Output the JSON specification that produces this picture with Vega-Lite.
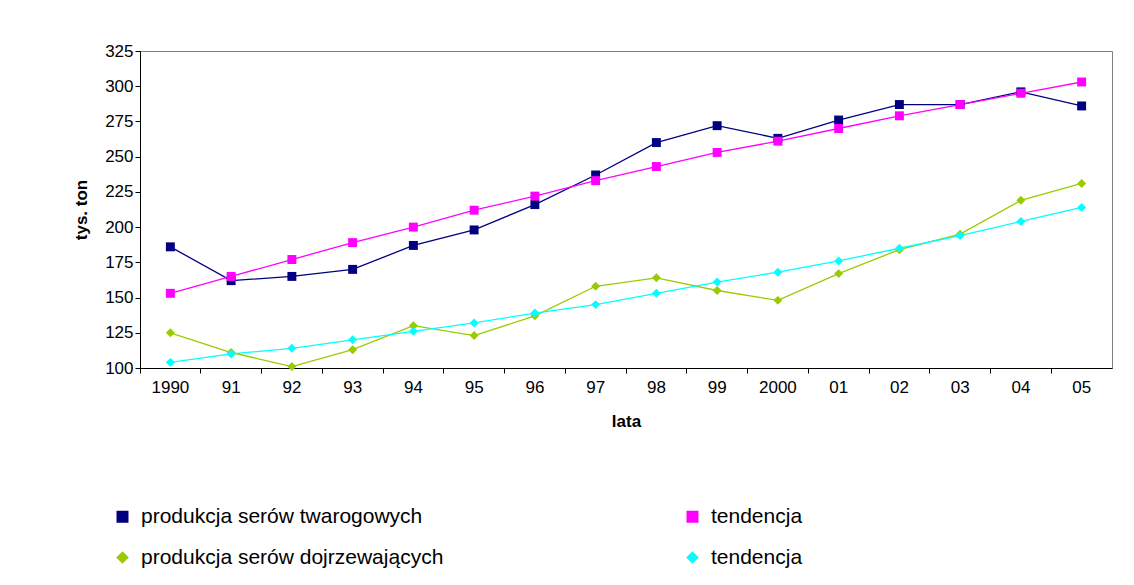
{
  "$schema": "https://vega.github.io/schema/vega-lite/v6.json",
  "autosize": "none",
  "width": 972,
  "height": 317,
  "padding": {"left": 140, "top": 51, "right": 22, "bottom": 217},
  "background": "white",
  "config": {
    "font": "Liberation Sans",
    "view": {"stroke": "#808080", "strokeWidth": 1},
    "axis": {"labelFontSize": 17, "labelColor": "black", "titleFontSize": 17, "titleColor": "black", "domainColor": "black", "tickColor": "black", "grid": false}
  },
  "data": {"values": [
    {"rok": "1990", "s": "A", "v": 186}, {"rok": "91", "s": "A", "v": 162}, {"rok": "92", "s": "A", "v": 165}, {"rok": "93", "s": "A", "v": 170},
    {"rok": "94", "s": "A", "v": 187}, {"rok": "95", "s": "A", "v": 198}, {"rok": "96", "s": "A", "v": 216}, {"rok": "97", "s": "A", "v": 237},
    {"rok": "98", "s": "A", "v": 260}, {"rok": "99", "s": "A", "v": 272}, {"rok": "2000", "s": "A", "v": 263}, {"rok": "01", "s": "A", "v": 276},
    {"rok": "02", "s": "A", "v": 287}, {"rok": "03", "s": "A", "v": 287}, {"rok": "04", "s": "A", "v": 296}, {"rok": "05", "s": "A", "v": 286},
    {"rok": "1990", "s": "B", "v": 153}, {"rok": "91", "s": "B", "v": 165}, {"rok": "92", "s": "B", "v": 177}, {"rok": "93", "s": "B", "v": 189},
    {"rok": "94", "s": "B", "v": 200}, {"rok": "95", "s": "B", "v": 212}, {"rok": "96", "s": "B", "v": 222}, {"rok": "97", "s": "B", "v": 233},
    {"rok": "98", "s": "B", "v": 243}, {"rok": "99", "s": "B", "v": 253}, {"rok": "2000", "s": "B", "v": 261}, {"rok": "01", "s": "B", "v": 270},
    {"rok": "02", "s": "B", "v": 279}, {"rok": "03", "s": "B", "v": 287}, {"rok": "04", "s": "B", "v": 295}, {"rok": "05", "s": "B", "v": 303},
    {"rok": "1990", "s": "C", "v": 125}, {"rok": "91", "s": "C", "v": 111}, {"rok": "92", "s": "C", "v": 101}, {"rok": "93", "s": "C", "v": 113},
    {"rok": "94", "s": "C", "v": 130}, {"rok": "95", "s": "C", "v": 123}, {"rok": "96", "s": "C", "v": 137}, {"rok": "97", "s": "C", "v": 158},
    {"rok": "98", "s": "C", "v": 164}, {"rok": "99", "s": "C", "v": 155}, {"rok": "2000", "s": "C", "v": 148}, {"rok": "01", "s": "C", "v": 167},
    {"rok": "02", "s": "C", "v": 184}, {"rok": "03", "s": "C", "v": 195}, {"rok": "04", "s": "C", "v": 219}, {"rok": "05", "s": "C", "v": 231},
    {"rok": "1990", "s": "D", "v": 104}, {"rok": "91", "s": "D", "v": 110}, {"rok": "92", "s": "D", "v": 114}, {"rok": "93", "s": "D", "v": 120},
    {"rok": "94", "s": "D", "v": 126}, {"rok": "95", "s": "D", "v": 132}, {"rok": "96", "s": "D", "v": 139}, {"rok": "97", "s": "D", "v": 145},
    {"rok": "98", "s": "D", "v": 153}, {"rok": "99", "s": "D", "v": 161}, {"rok": "2000", "s": "D", "v": 168}, {"rok": "01", "s": "D", "v": 176},
    {"rok": "02", "s": "D", "v": 185}, {"rok": "03", "s": "D", "v": 194}, {"rok": "04", "s": "D", "v": 204}, {"rok": "05", "s": "D", "v": 214}
  ]},
  "mark": {"type": "line", "strokeWidth": 1.3, "point": {"filled": true, "size": 80, "opacity": 1}},
  "encoding": {
    "x": {"field": "rok", "type": "ordinal", "sort": null, "scale": {"type": "band", "paddingInner": 0, "paddingOuter": 0},
      "axis": {"title": "lata", "titleFontWeight": "bold", "labelAngle": 0, "labelPadding": 6, "titlePadding": 18, "bandPosition": 0, "tickSize": 5}},
    "y": {"field": "v", "type": "quantitative", "scale": {"domain": [100, 325], "nice": false},
      "axis": {"title": "tys. ton", "titleFontWeight": "bold", "values": [100, 125, 150, 175, 200, 225, 250, 275, 300, 325], "titlePadding": 14, "tickSize": 5}},
    "color": {"field": "s", "type": "nominal",
      "scale": {"domain": ["A", "C", "B", "D"], "range": ["#000080", "#99CC00", "#FF00FF", "#00FFFF"]},
      "legend": {"title": null, "orient": "none", "legendX": -28, "legendY": 455, "columns": 2, "columnPadding": 238, "rowPadding": 19,
        "labelFontSize": 21, "labelColor": "black", "symbolSize": 110, "labelLimit": 500, "labelOffset": 8,
        "labelExpr": "datum.value == 'A' ? 'produkcja serów twarogowych' : datum.value == 'C' ? 'produkcja serów dojrzewających' : 'tendencja'"}},
    "shape": {"field": "s", "type": "nominal",
      "scale": {"domain": ["A", "C", "B", "D"], "range": ["square", "diamond", "square", "diamond"]}, "legend": null}
  }
}
